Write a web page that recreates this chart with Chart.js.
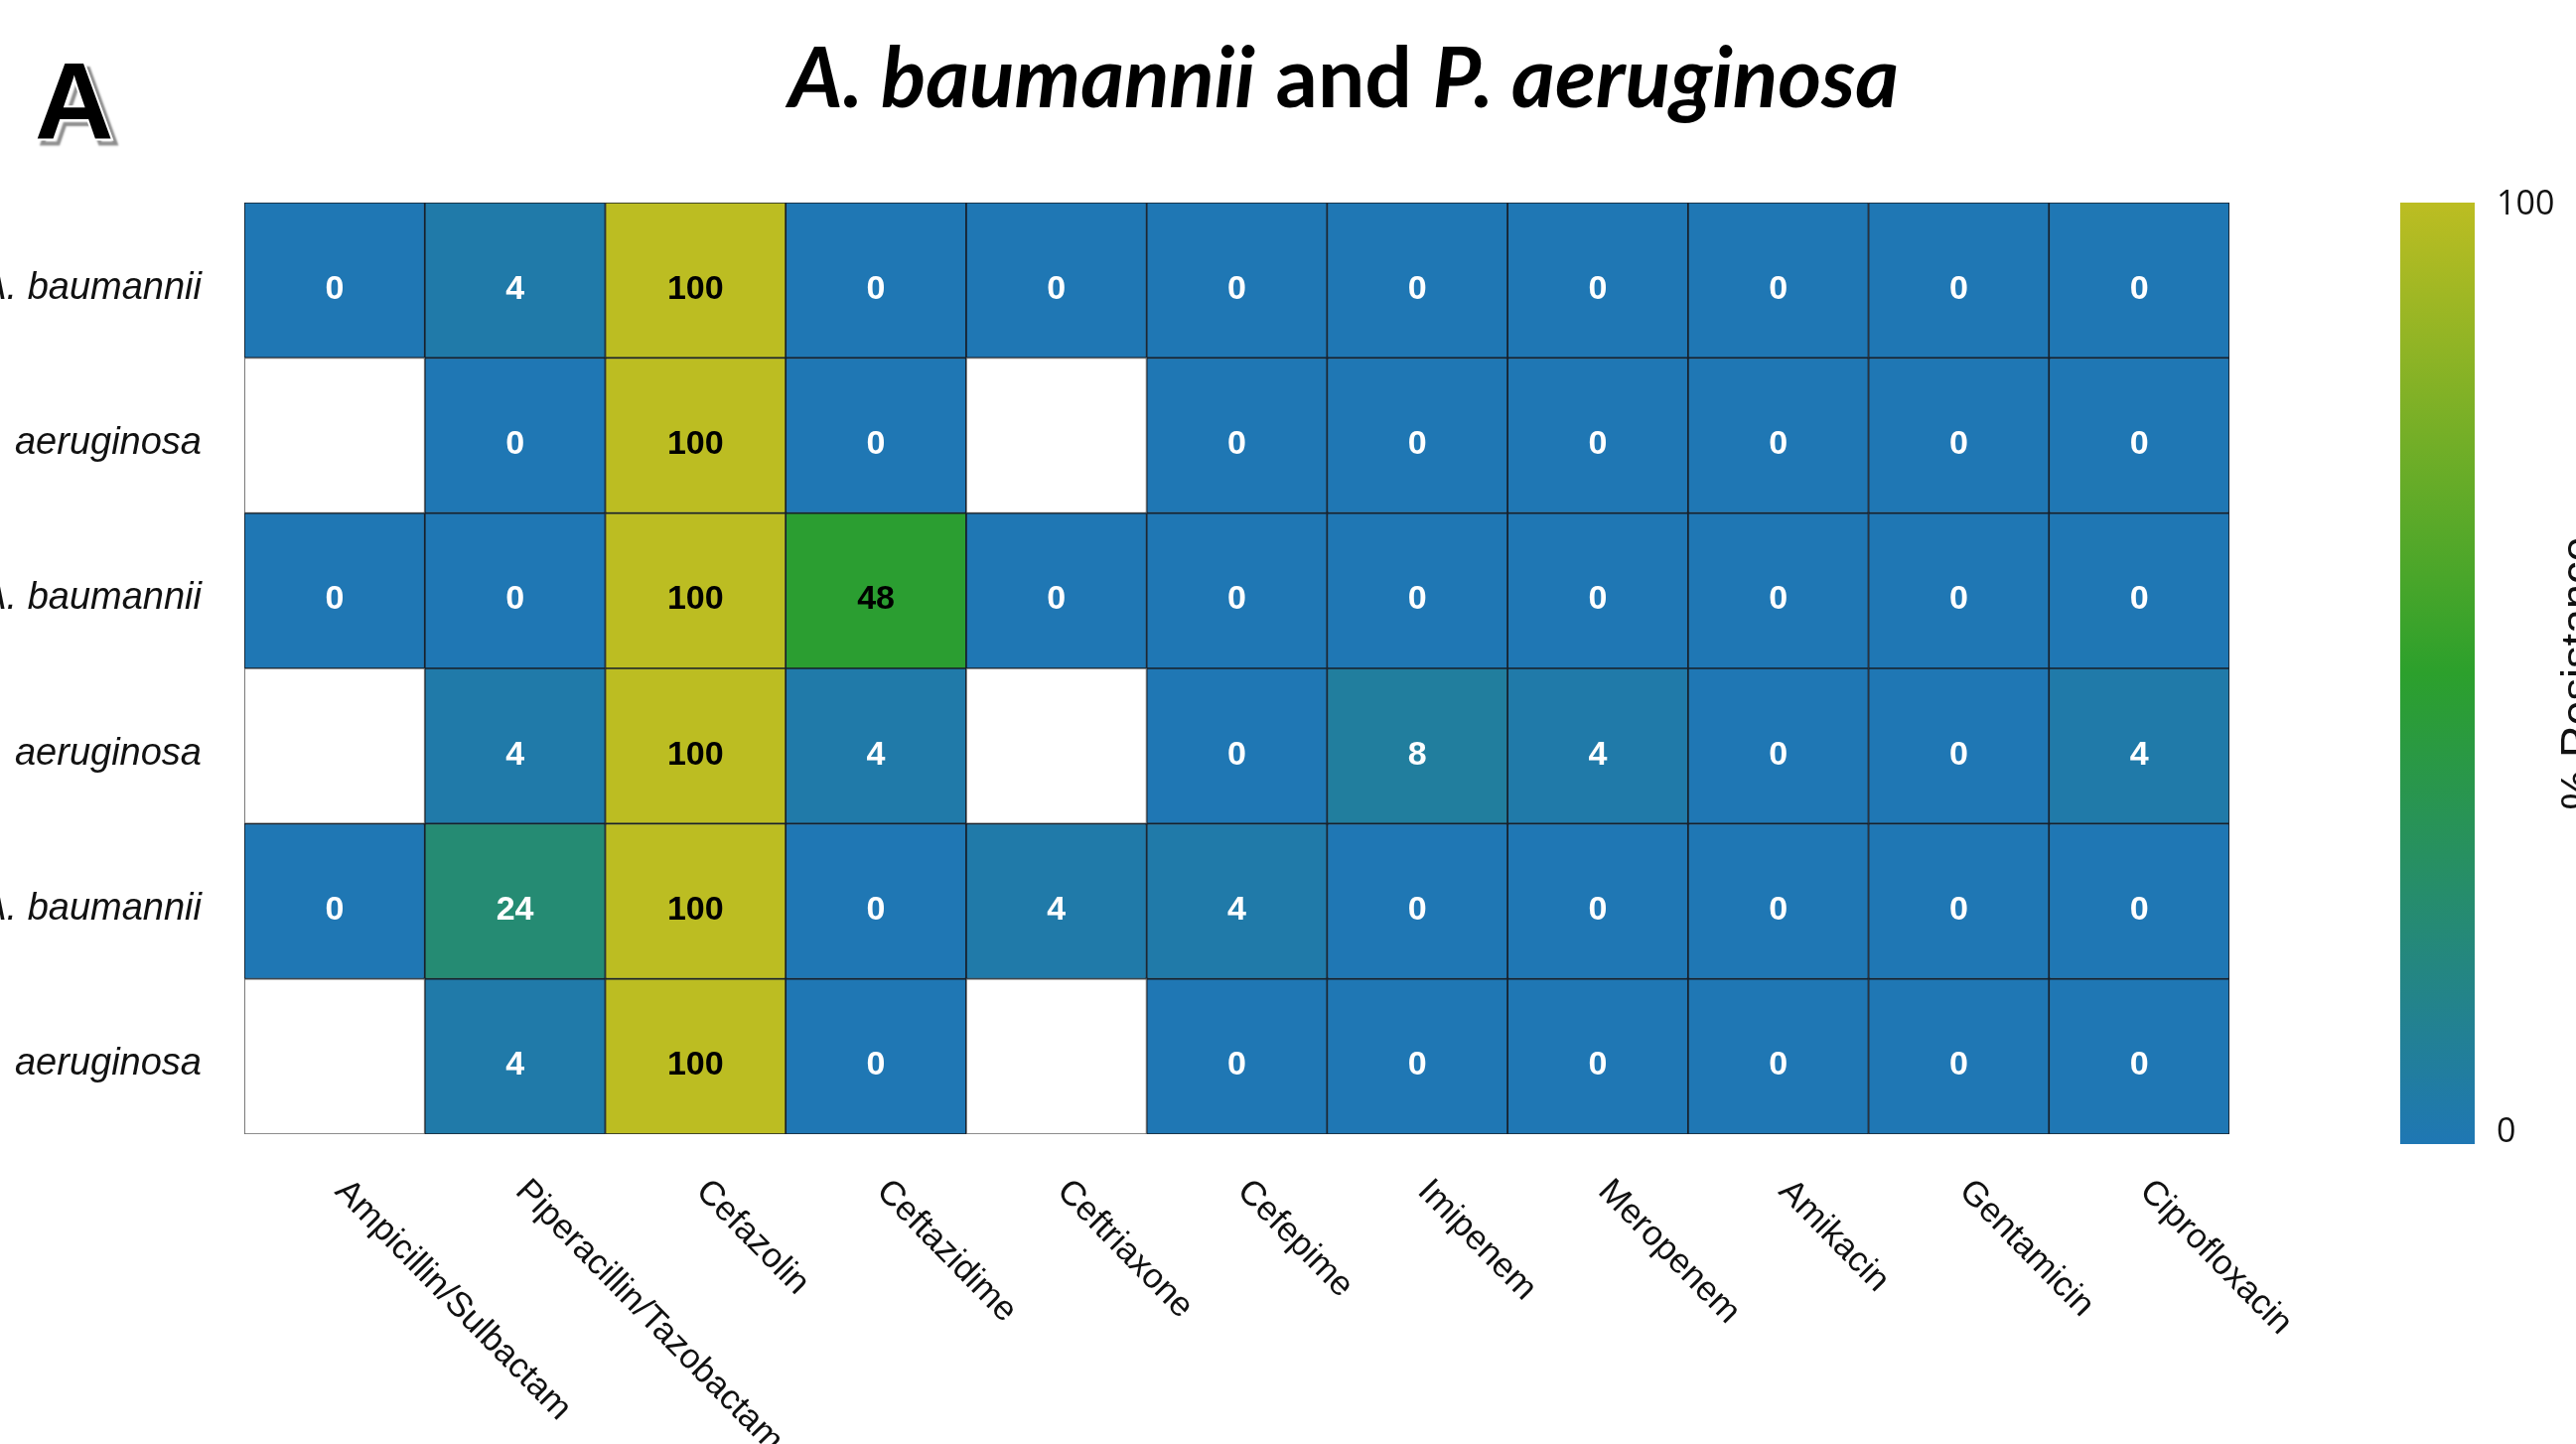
<!DOCTYPE html>
<html>
<head>
<meta charset="utf-8">
<title>A. baumannii and P. aeruginosa</title>
<script src="https://cdn.jsdelivr.net/npm/chart.js@4.4.1/dist/chart.umd.min.js"></script>
<style>
  html, body { margin: 0; padding: 0; background: #fff; overflow: hidden; }
  #wrap { position: relative; width: 2594px; height: 1454px; }
</style>
</head>
<body>
<div id="wrap"><canvas id="heatmap" width="2594" height="1454"></canvas></div>
<script>
// Antibiotics along the bottom, isolate groups down the side
const antibiotics = [
  "Ampicillin/Sulbactam", "Piperacillin/Tazobactam", "Cefazolin", "Ceftazidime",
  "Ceftriaxone", "Cefepime", "Imipenem", "Meropenem", "Amikacin", "Gentamicin", "Ciprofloxacin"
];
const isolates = ["A. baumannii", "P. aeruginosa", "A. baumannii", "P. aeruginosa", "A. baumannii", "P. aeruginosa"];

// % resistance per row (null = not tested)
const abRow1 = [0, 4, 100, 0, 0, 0, 0, 0, 0, 0, 0];
const paRow1 = [null, 0, 100, 0, null, 0, 0, 0, 0, 0, 0];
const abRow2 = [0, 0, 100, 48, 0, 0, 0, 0, 0, 0, 0];
const paRow2 = [null, 4, 100, 4, null, 0, 8, 4, 0, 0, 4];
const abRow3 = [0, 24, 100, 0, 4, 4, 0, 0, 0, 0, 0];
const paRow3 = [null, 4, 100, 0, null, 0, 0, 0, 0, 0, 0];
const rows = [abRow1, paRow1, abRow2, paRow2, abRow3, paRow3];

const colorbarTicks = ["100", "0"];

// blue -> green -> olive colour scale
const stops = [[31, 119, 180], [44, 160, 44], [188, 189, 34]];

function colorFor(v) {
  if (v === null) return "#ffffff";
  const t = Math.max(0, Math.min(1, v / 100)) * 2;
  const i = Math.min(1, Math.floor(t));
  const f = t - i;
  const a = stops[i], b = stops[i + 1];
  const c = a.map((x, k) => Math.round(x + (b[k] - x) * f));
  return `rgb(${c[0]},${c[1]},${c[2]})`;
}

const datasets = antibiotics.map((name, c) => ({
  label: name,
  data: rows.map(() => [c, c + 1]),
  backgroundColor: rows.map(r => colorFor(r[c])),
  borderColor: rows.map(r => r[c] === null ? "#666666" : "#18202a"),
  borderWidth: 1.2,
  borderSkipped: false,
  grouped: false,
  barPercentage: 1,
  categoryPercentage: 1
}));

// cell value text
const cellLabels = {
  id: "cellLabels",
  afterDatasetsDraw(chart) {
    const { ctx, scales: { x, y } } = chart;
    ctx.save();
    ctx.font = "bold 34px 'Liberation Sans', Arial, sans-serif";
    ctx.textAlign = "center";
    ctx.textBaseline = "middle";
    rows.forEach((r, ri) => {
      r.forEach((v, c) => {
        if (v === null) return;
        ctx.fillStyle = v >= 40 ? "#000000" : "#ffffff";
        ctx.fillText(String(v), x.getPixelForValue(c + 0.5), y.getPixelForValue(ri) + 9);
      });
    });
    ctx.restore();
  }
};

// slanted antibiotic names under the grid
const xLabels = {
  id: "xLabels",
  afterDraw(chart) {
    const { ctx, chartArea, scales: { x } } = chart;
    ctx.save();
    ctx.font = "35px 'Liberation Sans', Arial, sans-serif";
    ctx.fillStyle = "#111111";
    ctx.textAlign = "left";
    ctx.textBaseline = "middle";
    antibiotics.forEach((name, c) => {
      ctx.save();
      ctx.translate(x.getPixelForValue(c + 0.5) + 6, chartArea.bottom + 52);
      ctx.rotate(Math.PI / 4 + 0.01);
      ctx.fillText(name, 0, 0);
      ctx.restore();
    });
    ctx.restore();
  }
};

// title, panel letter and colour bar
const decorations = {
  id: "decorations",
  afterDraw(chart) {
    const { ctx, chartArea } = chart;
    ctx.save();

    // title with italic species names
    const parts = [
      ["italic bold 84px Lato, 'Open Sans', sans-serif", "A. baumannii"],
      ["bold 84px Lato, 'Open Sans', sans-serif", " and "],
      ["italic bold 84px Lato, 'Open Sans', sans-serif", "P. aeruginosa"]
    ];
    let total = 0;
    parts.forEach(p => { ctx.font = p[0]; total += ctx.measureText(p[1]).width; });
    let tx = 1353 - total / 2;
    ctx.fillStyle = "#000";
    ctx.textBaseline = "alphabetic";
    ctx.textAlign = "left";
    parts.forEach(p => {
      ctx.font = p[0];
      ctx.fillText(p[1], tx, 108);
      tx += ctx.measureText(p[1]).width;
    });

    // panel letter with shadow
    ctx.font = "bold 110px 'Liberation Sans', Arial, sans-serif";
    ctx.save();
    ctx.shadowColor = "rgba(0,0,0,0.45)";
    ctx.shadowOffsetX = 5;
    ctx.shadowOffsetY = 5;
    ctx.shadowBlur = 2;
    ctx.lineWidth = 4;
    ctx.strokeStyle = "#ffffff";
    ctx.strokeText("A", 35, 139);
    ctx.restore();
    ctx.fillStyle = "#000";
    ctx.fillText("A", 35, 139);

    // colour bar
    const cbLeft = 2417, cbWidth = 75;
    const cbTop = chartArea.top, cbBottom = chartArea.bottom + 10;
    const grad = ctx.createLinearGradient(0, cbBottom, 0, cbTop);
    grad.addColorStop(0, colorFor(0));
    grad.addColorStop(0.5, colorFor(50));
    grad.addColorStop(1, colorFor(100));
    ctx.fillStyle = grad;
    ctx.fillRect(cbLeft, cbTop, cbWidth, cbBottom - cbTop);

    ctx.fillStyle = "#111";
    ctx.font = "34px 'Open Sans', sans-serif";
    ctx.textBaseline = "middle";
    ctx.fillText(colorbarTicks[0], cbLeft + cbWidth + 22, cbTop + 2);
    ctx.fillText(colorbarTicks[1], cbLeft + cbWidth + 22, cbBottom - 12);

    ctx.save();
    ctx.font = "45px 'Liberation Sans', Arial, sans-serif";
    ctx.textAlign = "center";
    ctx.textBaseline = "alphabetic";
    ctx.translate(2610, (cbTop + cbBottom) / 2);
    ctx.rotate(-Math.PI / 2);
    ctx.fillText("% Resistance", 0, 0);
    ctx.restore();

    ctx.restore();
  }
};

new Chart(document.getElementById("heatmap"), {
  type: "bar",
  data: { labels: isolates, datasets },
  options: {
    indexAxis: "y",
    responsive: false,
    animation: false,
    layout: { padding: { top: 204, right: 349, bottom: 312, left: 0 } },
    plugins: { legend: { display: false }, tooltip: { enabled: false }, title: { display: false } },
    scales: {
      x: { type: "linear", min: 0, max: antibiotics.length, display: false },
      y: {
        type: "category",
        grid: { display: false, drawTicks: false },
        border: { display: false },
        ticks: {
          color: "#111111",
          padding: 43,
          labelOffset: 8,
          font: { family: "'Liberation Sans', Arial, sans-serif", style: "italic", size: 38 }
        },
        afterFit(scale) { scale.width = 246; }
      }
    }
  },
  plugins: [cellLabels, xLabels, decorations]
});
</script>
</body>
</html>
